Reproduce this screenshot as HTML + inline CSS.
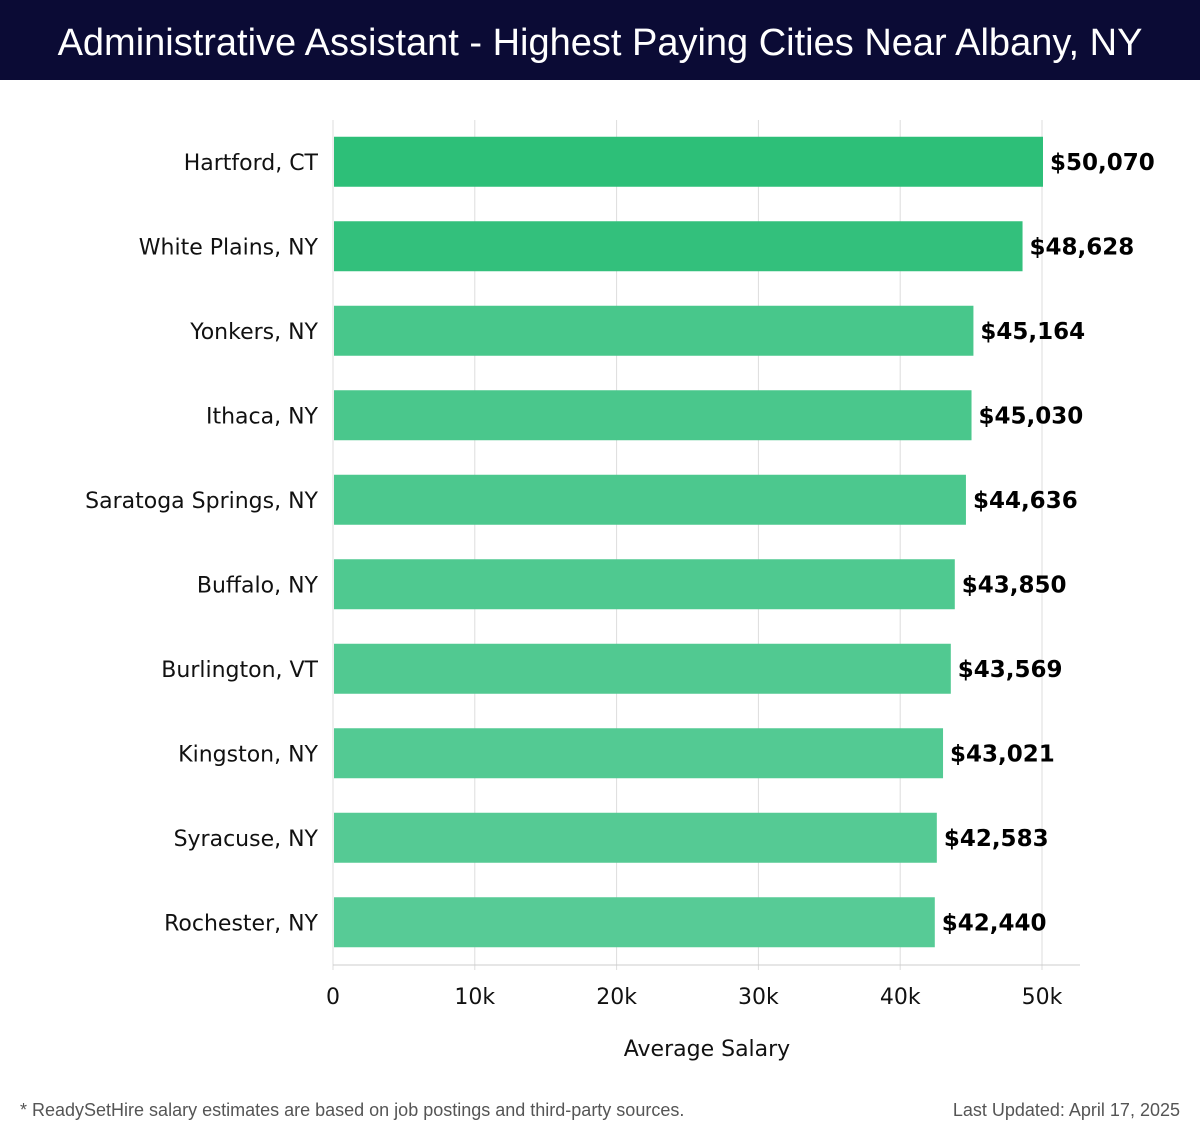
<!DOCTYPE html>
<html><head><meta charset="utf-8"><style>
body{margin:0;width:1200px;height:1140px;background:#fff;overflow:hidden;font-family:"DejaVu Sans","Liberation Sans",sans-serif}
#title{position:absolute;left:0;top:0;width:1200px;height:80px;background:#0b0b35;color:#fff;font:38px "Liberation Sans","DejaVu Sans",sans-serif;line-height:86px;text-align:center}
.foot{position:absolute;top:1100px;font:18px "Liberation Sans","DejaVu Sans",sans-serif;color:#555}
</style></head><body>
<div id="title">Administrative Assistant - Highest Paying Cities Near Albany, NY</div>
<svg id="chart" width="1200" height="1090" style="position:absolute;left:0;top:0"></svg>
<div class="foot" style="left:20px">* ReadySetHire salary estimates are based on job postings and third-party sources.</div>
<div class="foot" style="right:20px">Last Updated: April 17, 2025</div>
<script>
const cities=["Hartford, CT","White Plains, NY","Yonkers, NY","Ithaca, NY","Saratoga Springs, NY","Buffalo, NY","Burlington, VT","Kingston, NY","Syracuse, NY","Rochester, NY"];
const salaries=[50070,48628,45164,45030,44636,43850,43569,43021,42583,42440];
const valueLabels=["$50,070","$48,628","$45,164","$45,030","$44,636","$43,850","$43,569","$43,021","$42,583","$42,440"];
const ticks=[0,10000,20000,30000,40000,50000];
const tickLabels=["0","10k","20k","30k","40k","50k"];
const colors=["#2dbf78","#33c07c","#48c78b","#4ac78c","#4cc88e","#4fc990","#51c991","#53ca93","#55ca94","#57cb96"];
const svg=document.getElementById('chart');
const NS="http://www.w3.org/2000/svg";
const x0=333,xScale=(1042-333)/50000;
const x=v=>x0+v*xScale;
const top0=120,bottom=965,band=(bottom-top0)/cities.length;
const yc=i=>top0+band*(i+0.5)-0.5;
function mk(t,a){const e=document.createElementNS(NS,t);for(const k in a)e.setAttribute(k,a[k]);svg.appendChild(e);return e;}
ticks.forEach((t,i)=>{
 const g=mk('line',{x1:x(t),x2:x(t),y1:top0,y2:970,stroke:'#dddddd','stroke-width':1});
 
 
 const l=mk('text',{x:x(t),y:1004,'text-anchor':'middle','font-size':22,fill:'#111'});
 l.textContent=tickLabels[i];
 
 
});
const ax=mk('line',{x1:x0,x2:1080,y1:bottom,y2:bottom,stroke:'#cccccc','stroke-width':1});


cities.forEach((c,i)=>{
 const cy=yc(i);
 const r=mk('rect',{x:x0+1,y:cy-25,width:x(salaries[i])-x0-1,height:50,fill:colors[i]});
 
 
 const n=mk('text',{x:318,y:cy+8,'text-anchor':'end','font-size':22,fill:'#111'});
 n.textContent=c;
 
 
 const v=mk('text',{x:x(salaries[i])+7,y:cy+8,'font-size':23,'font-weight':'bold',fill:'#000'});
 v.textContent=valueLabels[i];
 
 
});
const at=mk('text',{x:707,y:1056,'text-anchor':'middle','font-size':22,fill:'#111'});
at.textContent='Average Salary';


</script>
</body></html>
